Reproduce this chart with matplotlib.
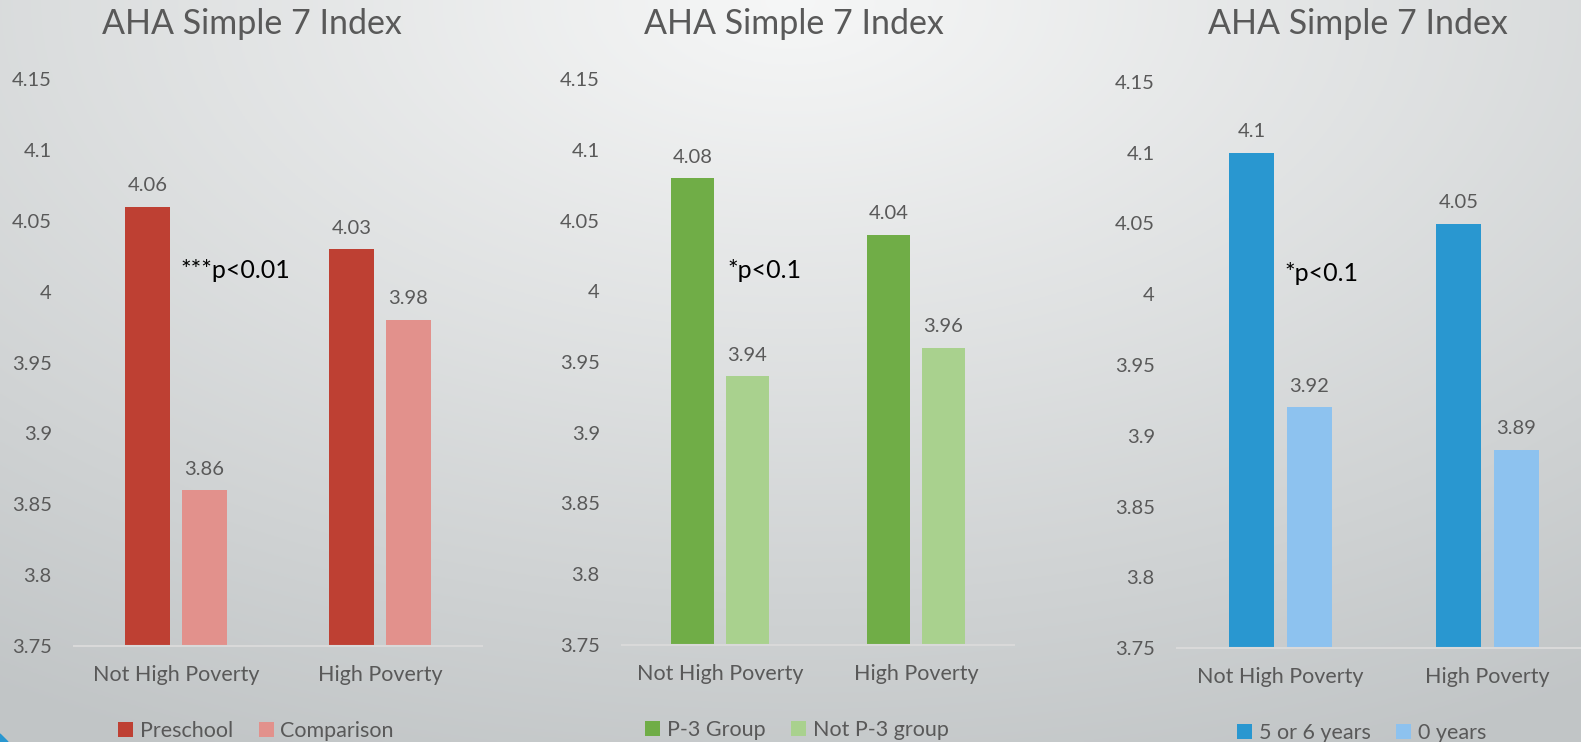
import matplotlib.pyplot as plt
import numpy as np
from matplotlib.patches import Polygon

plt.rcParams['font.family'] = ['Lato', 'DejaVu Sans']

categories = ["Not High Poverty", "High Poverty"]
title = "AHA Simple 7 Index"

# panel 1
p1_series = ["Preschool", "Comparison"]
p1_values = [[4.06, 4.03], [3.86, 3.98]]
p1_colors = ["#BE4033", "#E2918C"]
p1_note = "***p<0.01"

# panel 2
p2_series = ["P-3 Group", "Not P-3 group"]
p2_values = [[4.08, 4.04], [3.94, 3.96]]
p2_colors = ["#70AD47", "#A9D18E"]
p2_note = "*p<0.1"

# panel 3
p3_series = ["5 or 6 years", "0 years"]
p3_values = [[4.1, 4.05], [3.92, 3.89]]
p3_colors = ["#2997D0", "#8DC2EF"]
p3_note = "*p<0.1"

yticks = [3.75, 3.8, 3.85, 3.9, 3.95, 4, 4.05, 4.1, 4.15]
ytick_labels = ["3.75", "3.8", "3.85", "3.9", "3.95", "4", "4.05", "4.1", "4.15"]

W, H = 1581, 742
fig = plt.figure(figsize=(W / 100, H / 100), dpi=100)

# slide background
bg = fig.add_axes([0, 0, 1, 1], zorder=-10)
yy, xx = np.mgrid[0:1:300j, 0:1:600j]
d = np.sqrt(((xx - 0.5) * 1.2) ** 2 + (yy * 1.0) ** 2)
d = np.clip(d / 1.1, 0, 1)
top = np.array([0.965, 0.968, 0.968])
bot = np.array([0.76, 0.775, 0.78])
img = top[None, None, :] * (1 - d[..., None]) + bot[None, None, :] * d[..., None]
bg.imshow(img, aspect="auto", extent=[0, 1, 0, 1], origin="upper")
bg.axis("off")
fig.patches.append(Polygon([(0, 0), (0, 8 / H), (8 / W, 0)], closed=True,
                           transform=fig.transFigure, color="#2997D0"))

TXT = "#595959"
panels = [
    ([74 / W, 1 - 646 / H, 408 / W, 567 / H], p1_series, p1_values, p1_colors, p1_note, 0.02, 252),
    ([622 / W, 1 - 645 / H, 392 / W, 566 / H], p2_series, p2_values, p2_colors, p2_note, 0.036, 794),
    ([1177 / W, 1 - 648 / H, 414 / W, 566 / H], p3_series, p3_values, p3_colors, p3_note, 0.017, 1358),
]

x = np.arange(len(categories))
bw = 0.22
off = 0.14
for rect, series, values, colors, note, note_x, title_x in panels:
    ax = fig.add_axes(rect)
    ax.patch.set_alpha(0)
    for i, (name, vals, col) in enumerate(zip(series, values, colors)):
        bars = ax.bar(x + (i * 2 - 1) * off, np.array(vals) - 3.75, bw, bottom=3.75,
                      color=col, label=name, zorder=2)
        for b, v in zip(bars, vals):
            ax.annotate(f"{v:g}", (b.get_x() + b.get_width() / 2, v), xytext=(0, 9),
                        textcoords="offset points", ha="center", va="bottom",
                        fontsize=14.5, color=TXT)
    ax.set_xlim(-0.5, 1.5)
    ax.set_ylim(3.75, 4.15)
    ax.set_yticks(yticks)
    ax.set_yticklabels(ytick_labels)
    ax.set_xticks(x)
    ax.set_xticklabels(categories)
    ax.tick_params(axis="y", length=0, pad=16, labelsize=14.5, labelcolor=TXT)
    ax.tick_params(axis="x", length=0, pad=14, labelsize=15.5, labelcolor=TXT)
    for s in ["top", "right", "left"]:
        ax.spines[s].set_visible(False)
    ax.spines["bottom"].set_color("#D9D9D9")
    ax.spines["bottom"].set_linewidth(1.5)
    ax.text(note_x, 4.015, note, ha="left", va="center", fontsize=18, color="black")
    ax.legend(loc="center", bbox_to_anchor=(0.446, -0.15), ncol=2, frameon=False,
              fontsize=15.5, handlelength=0.7, handleheight=0.7, handletextpad=0.3,
              columnspacing=1.2, labelcolor=TXT)
    fig.text(title_x / W, 1 - 24 / H, title, ha="center", va="center", fontsize=24.5, color=TXT)

fig.savefig("out.png", dpi=100)
